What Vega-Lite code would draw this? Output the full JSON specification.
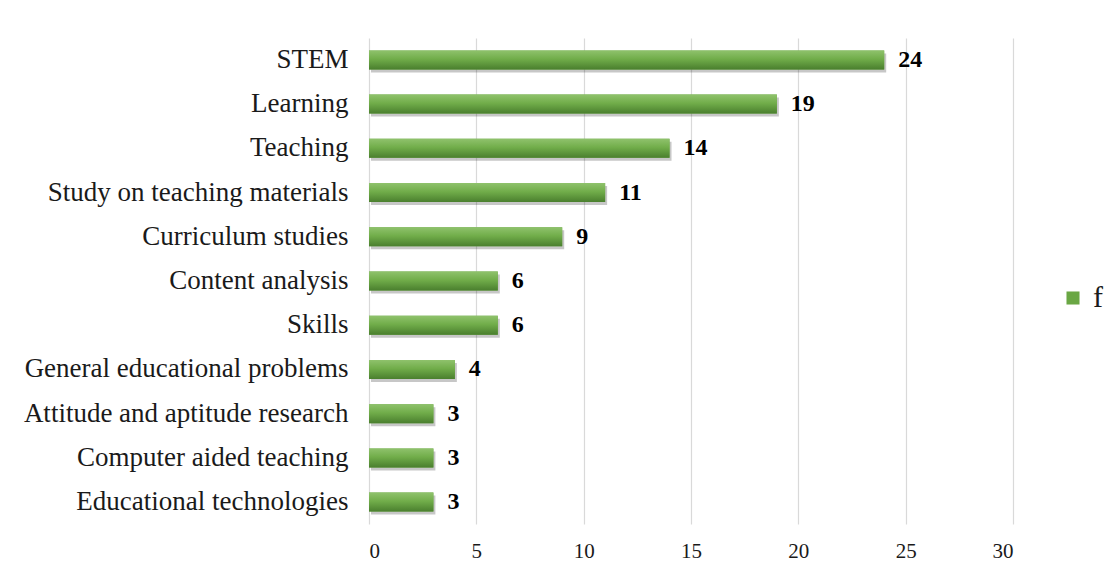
{
  "$schema": "https://vega.github.io/schema/vega-lite/v6.json",
  "width": 644,
  "height": 486,
  "autosize": "none",
  "padding": {"left": 369, "top": 38, "right": 97, "bottom": 58},
  "background": "white",
  "config": {
    "view": {"stroke": null},
    "font": "Liberation Serif"
  },
  "data": {
    "values": [
      {"topic": "STEM", "f": 24},
      {"topic": "Learning", "f": 19},
      {"topic": "Teaching", "f": 14},
      {"topic": "Study on teaching materials", "f": 11},
      {"topic": "Curriculum studies ", "f": 9},
      {"topic": "Content analysis", "f": 6},
      {"topic": "Skills", "f": 6},
      {"topic": "General educational problems", "f": 4},
      {"topic": "Attitude and aptitude research", "f": 3},
      {"topic": "Computer aided teaching", "f": 3},
      {"topic": "Educational technologies ", "f": 3}
    ]
  },
  "encoding": {
    "y": {
      "field": "topic",
      "type": "nominal",
      "sort": null,
      "scale": {"paddingInner": 0.57, "paddingOuter": 0.28},
      "axis": {
        "title": null,
        "domain": false,
        "ticks": false,
        "labelFont": "Liberation Serif",
        "labelFontSize": 27,
        "labelColor": "#1a1a1a",
        "labelPadding": 21,
        "labelLimit": 400
      }
    },
    "x": {
      "field": "f",
      "type": "quantitative",
      "scale": {"domain": [0, 30]},
      "axis": {
        "title": null,
        "values": [0, 5, 10, 15, 20, 25, 30],
        "domain": false,
        "ticks": false,
        "grid": true,
        "gridColor": "#d9d9d9",
        "gridWidth": 1.2,
        "labelFont": "Liberation Serif",
        "labelFontSize": 21,
        "labelColor": "#1a1a1a",
        "labelPadding": 16
      }
    }
  },
  "layer": [
    {
      "mark": {"type": "bar", "fill": "#000000", "opacity": 0.22, "yOffset": 3, "xOffset": 2}
    },
    {
      "mark": {"type": "bar"},
      "encoding": {
        "color": {
          "datum": "f",
          "scale": {"range": ["#6aa744"]},
          "legend": {
            "title": null,
            "orient": "none",
            "legendX": 689,
            "legendY": 245,
            "symbolType": "square",
            "symbolSize": 170,
            "labelFont": "Liberation Serif",
            "labelFontSize": 30,
            "labelColor": "#1a1a1a",
            "labelOffset": 5
          }
        }
      }
    },
    {
      "mark": {
        "type": "bar",
        "fill": {
          "gradient": "linear",
          "x1": 0, "y1": 0, "x2": 0, "y2": 1,
          "stops": [
            {"offset": 0, "color": "#8fc26c"},
            {"offset": 0.45, "color": "#71ad4a"},
            {"offset": 1, "color": "#4a7f2e"}
          ]
        }
      }
    },
    {
      "mark": {
        "type": "text",
        "align": "left",
        "baseline": "middle",
        "dx": 14,
        "font": "Liberation Serif",
        "fontWeight": "bold",
        "fontSize": 24,
        "color": "#000000"
      },
      "encoding": {"text": {"field": "f", "type": "quantitative"}}
    }
  ]
}
